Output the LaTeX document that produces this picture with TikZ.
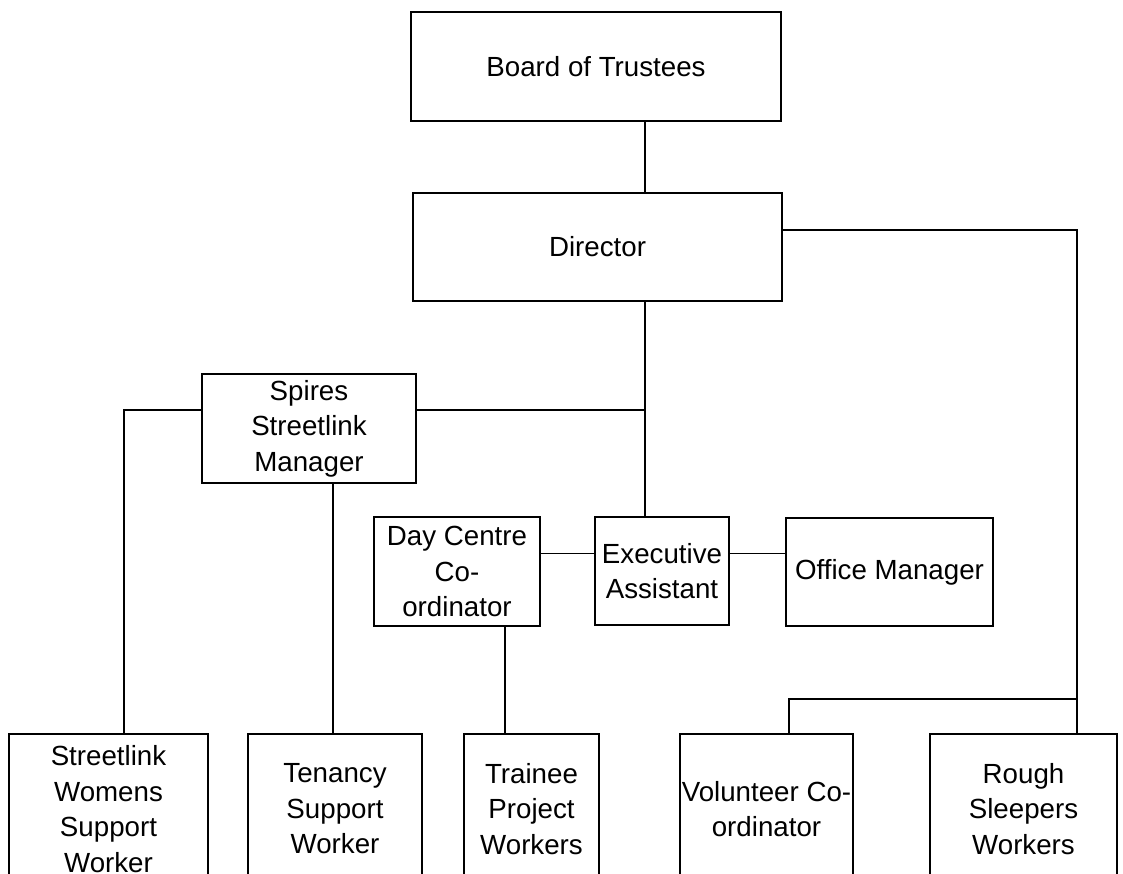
\documentclass[tikz,border=0pt]{standalone}
\usepackage{fontspec}
\setmainfont{Liberation Sans}
\tikzstyle{rolebox}=[
      rectangle,
      draw=black,
      line width = 1.8pt,
      inner sep = 0pt,
      align = center,
      font = \fontsize{27.7}{35.5}\selectfont
      ]
\tikzstyle{link}=[line width = 1.8pt]

\begin{document}
\begin{tikzpicture}[x=1pt,y=-1pt]
\useasboundingbox (0,0) rectangle (1123,874);
\clip (0,0) rectangle (1123,874);
\node [rolebox,minimum width=370pt,minimum height=109pt] (board) at (596,66.5) {Board of Trustees};
\node [rolebox,minimum width=369pt,minimum height=108pt] (director) at (597.5,247) {Director};
\node [rolebox,minimum width=214pt,minimum height=109pt] (spires) at (309,428.5) {Spires\\Streetlink\\Manager};
\node [rolebox,minimum width=166pt,minimum height=109pt] (daycentre) at (457,571.5) {Day Centre\\Co-\\ordinator};
\node [rolebox,minimum width=134pt,minimum height=108pt] (exec) at (662,571) {Executive\\Assistant};
\node [rolebox,minimum width=207pt,minimum height=108pt] (office) at (889.5,572) {Office Manager};
\node [rolebox,minimum width=199pt,minimum height=150pt] (womens) at (108.5,809) {Streetlink\\Womens\\Support\\Worker};
\node [rolebox,minimum width=174pt,minimum height=150pt] (tenancy) at (335,809) {Tenancy\\Support\\Worker};
\node [rolebox,minimum width=135pt,minimum height=150pt] (trainee) at (531.5,809) {Trainee\\Project\\Workers};
\node [rolebox,minimum width=173pt,minimum height=150pt] (volunteer) at (766.5,809) {Volunteer Co-\\ordinator};
\node [rolebox,minimum width=187pt,minimum height=150pt] (rough) at (1023.5,809) {Rough\\Sleepers\\Workers};

\coordinate (trunk) at (645,0);
\coordinate (rcol) at (1077,0);
\coordinate (lcol) at (124,0);
\coordinate (mcol) at (333,0);
\coordinate (tcol) at (505,0);
\coordinate (vcol) at (789,0);
\coordinate (toprow) at (0,230);
\coordinate (midrow) at (0,410);
\coordinate (execrow) at (0,553.5);
\coordinate (vrow) at (0,699);

\draw [link] (board.south -| trunk) -- (director.north -| trunk);
\draw [link] (director.south -| trunk) -- (exec.north -| trunk);
\draw [link] (director.east |- toprow) -| (rough.north -| rcol);
\draw [link] (spires.east |- midrow) -- (trunk |- midrow);
\draw [link] (spires.west |- midrow) -| (womens.north -| lcol);
\draw [link] (spires.south -| mcol) -- (tenancy.north -| mcol);
\draw [link] (daycentre.east |- execrow) -- (exec.west |- execrow);
\draw [link] (exec.east |- execrow) -- (office.west |- execrow);
\draw [link] (daycentre.south -| tcol) -- (trainee.north -| tcol);
\draw [link] (volunteer.north -| vcol) |- (rcol |- vrow);
\end{tikzpicture}
\end{document}
